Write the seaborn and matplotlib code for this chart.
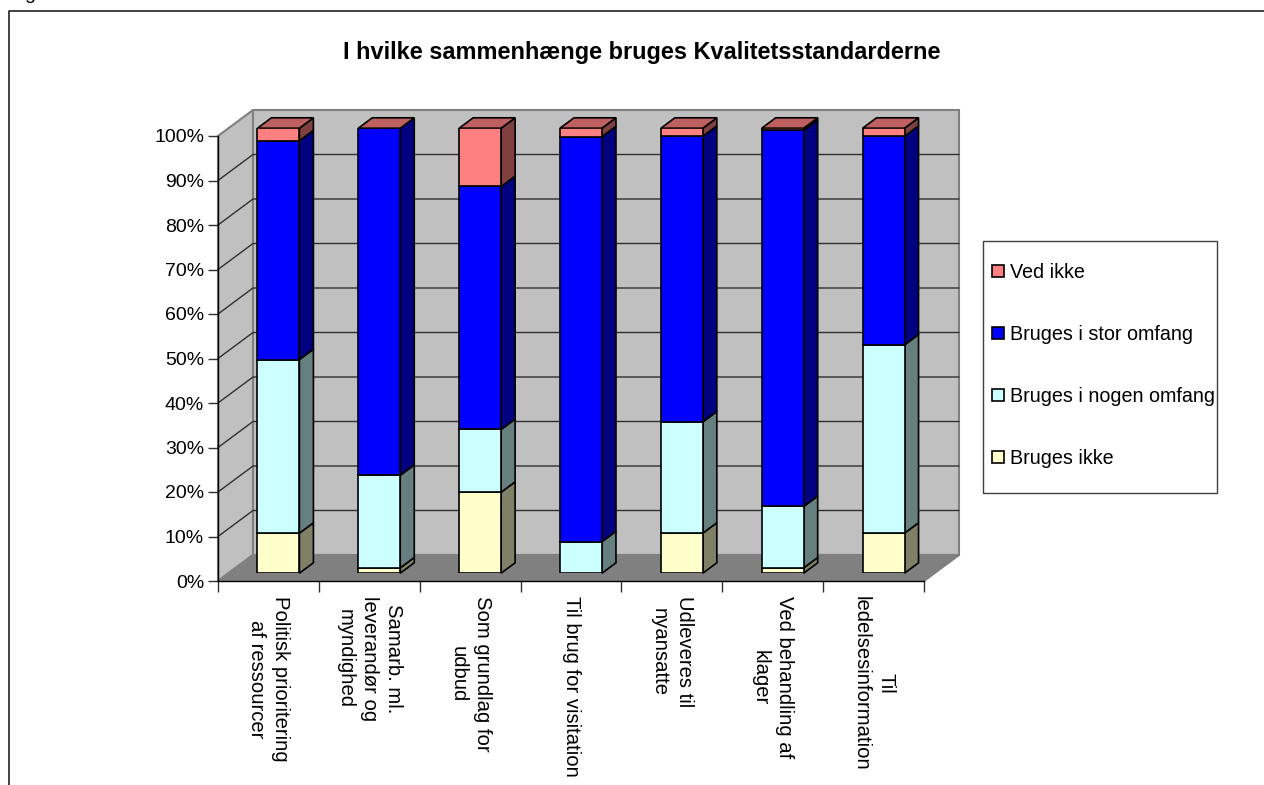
import matplotlib
matplotlib.use('Agg')
import numpy as np
import seaborn as sns
import matplotlib.pyplot as plt
from matplotlib.lines import Line2D
from matplotlib.patches import Polygon, Rectangle

categories = ['Politisk prioritering\naf ressourcer', 'Samarb. ml.\nleverandør og\nmyndighed',
              'Som grundlag for\nudbud', 'Til brug for visitation', 'Udleveres til\nnyansatte',
              'Ved behandling af\nklager', 'Til\nledelsesinformation']
bruges_ikke = [9.0, 1.2, 18.2, 0.0, 9.0, 1.2, 9.0]
nogen_omfang = [39.0, 20.8, 14.1, 7.1, 25.0, 13.8, 42.3]
stor_omfang = [49.2, 78.0, 54.6, 91.0, 64.2, 84.5, 46.9]
ved_ikke = [2.8, 0.0, 13.1, 1.9, 1.8, 0.5, 1.8]
series_names = ['Bruges ikke', 'Bruges i nogen omfang', 'Bruges i stor omfang', 'Ved ikke']
y_ticks = [0, 10, 20, 30, 40, 50, 60, 70, 80, 90, 100]

face_colors = ['#FFFFCC', '#CCFFFF', '#0000FF', '#FF8080']
side_colors = ['#808066', '#668080', '#000080', '#804040']
top_color = '#BF6060'

W, H = 1264, 785
left, right, base, top = 218, 924, 581, 136
depth_x, depth_y = 35, 26      # px, floor depth of the 3d box

sns.set_theme(style='white')
plt.rcParams['font.family'] = ['Liberation Sans', 'DejaVu Sans']

fig = plt.figure(figsize=(W / 100, H / 100), dpi=100, facecolor='white')
rect = [left / W, 1 - base / H, (right - left) / W, (base - top) / H]
ax = fig.add_axes(rect, facecolor='none')
# bars stand 30% into the box, so they get their own shifted axes
bar_ax = fig.add_axes([rect[0] + 10 / W, rect[1] + 0.3 * depth_y / H, rect[2], rect[3]],
                      facecolor='none')

xmin, xmax = -0.5, len(categories) - 0.5
ax.set_xlim(xmin, xmax)
ax.set_ylim(0, 100)
dx = depth_x / (right - left) * len(categories)
dy = depth_y / (base - top) * 100

# walls and floor
wall = dict(clip_on=False, zorder=0, edgecolor='#808080', linewidth=1.5)
ax.add_patch(Polygon([(xmin, 0), (xmin, 100), (xmin + dx, 100 + dy), (xmin + dx, dy)], facecolor='#C0C0C0', **wall))
ax.add_patch(Rectangle((xmin + dx, dy), xmax - xmin, 100, facecolor='#C0C0C0', **wall))
ax.add_patch(Polygon([(xmin, 0), (xmax, 0), (xmax + dx, dy), (xmin + dx, dy)], facecolor='#808080', **wall))
for t in y_ticks[1:-1]:
    ax.plot([xmin, xmin + dx, xmax + dx], [t, t + dy, t + dy], color='#303030', lw=1.0, clip_on=False, zorder=1)

# stacked bars
bottom = np.zeros(len(categories))
bar_w = 0.416
side_x = 0.4 * dx
side_y = 0.4 * dy
all_values = [bruges_ikke, nogen_omfang, stor_omfang, ved_ikke]
for name, values, face, side in zip(series_names, all_values, face_colors, side_colors):
    values = np.array(values)
    sns.barplot(x=categories, y=values, bottom=bottom, color=face, saturation=1, width=bar_w,
                edgecolor='black', linewidth=1.2, label=name, ax=bar_ax, zorder=3, legend=False)
    for i, (b, v) in enumerate(zip(bottom, values)):
        if v == 0:
            continue
        x1 = i + bar_w / 2
        bar_ax.add_patch(Polygon([(x1, b), (x1 + side_x, b + side_y), (x1 + side_x, b + v + side_y), (x1, b + v)],
                                 facecolor=side, edgecolor='black', linewidth=1.2, clip_on=False, zorder=2))
    bottom = bottom + values
for i, b in enumerate(bottom):
    x0, x1 = i - bar_w / 2, i + bar_w / 2
    bar_ax.add_patch(Polygon([(x0, b), (x1, b), (x1 + side_x, b + side_y), (x0 + side_x, b + side_y)],
                             facecolor=top_color, edgecolor='black', linewidth=1.2, clip_on=False, zorder=2))
bar_ax.set_xlim(xmin, xmax)
bar_ax.set_ylim(0, 100)
bar_ax.axis('off')

# axes and ticks on the front plane
for s in ['top', 'right']:
    ax.spines[s].set_visible(False)
for s in ['left', 'bottom']:
    ax.spines[s].set_color('black')
    ax.spines[s].set_linewidth(1.0)
ax.set_yticks(y_ticks)
ax.set_yticklabels([f'{t}%' for t in y_ticks], fontsize=14, color='black')
ax.set_xticks(np.arange(len(categories) + 1) - 0.5)
ax.set_xticklabels([])
ax.set_xticks(np.arange(len(categories)), categories, minor=True)
ax.tick_params(axis='y', left=True, length=7, width=1.0, color='#303030', pad=3)
ax.tick_params(axis='x', which='major', bottom=True, length=8, width=1.0, color='#303030')
ax.tick_params(axis='x', which='minor', bottom=False, length=0, pad=11)
for lab in ax.get_xticklabels(minor=True):
    lab.set(rotation=-90, ha='center', va='top', multialignment='center', fontsize=14.6, color='black',
            linespacing=1.37)

handles = [Rectangle((0, 0), 1, 1, facecolor=c, edgecolor='black', linewidth=1.2) for c in face_colors]
fig.add_artist(Rectangle((982.5 / W, 1 - 493 / H), 234.5 / W, 252.5 / H, transform=fig.transFigure,
                         facecolor='white', edgecolor='#404040', linewidth=1.0))
fig.legend(handles[::-1], series_names[::-1], loc='upper left', bbox_to_anchor=(992 / W, 1 - 263 / H), frameon=False,
           fontsize=14.2, labelspacing=2.18, borderpad=0, borderaxespad=0, handlelength=0.61, handleheight=0.61,
           handletextpad=0.3, labelcolor='black')

fig.text(642 / W, 1 - 52.5 / H, 'I hvilke sammenhænge bruges Kvalitetsstandarderne', ha='center', va='center',
         fontsize=16.9, fontweight='bold', color='black')
fig.text(24 / W, 1 + 1 / H, 'g', ha='left', va='baseline', fontsize=14, color='black')

# outer frame, runs off the page at right and bottom
fig.add_artist(Line2D([8.5 / W, 8.5 / W, 1], [0, 1 - 11 / H, 1 - 11 / H], transform=fig.transFigure,
                      color='#202020', lw=1.2))

fig.savefig('out.png', dpi=100)
